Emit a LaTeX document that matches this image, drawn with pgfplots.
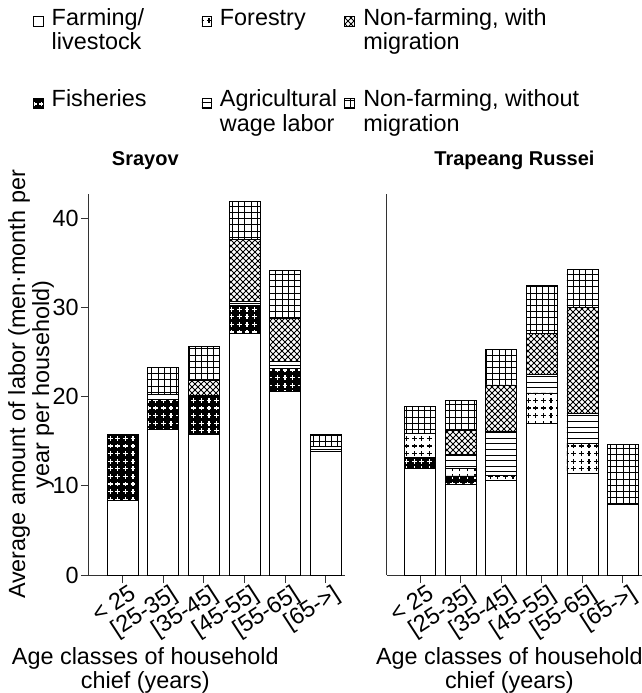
\documentclass[border=0pt]{standalone}
\usepackage{fontspec}
\setmainfont{Liberation Sans}
\usepackage{pgfplots}
\pgfplotsset{compat=1.18}
\usepackage{pgfplotstable}
\usetikzlibrary{patterns}

% custom patterns
\pgfdeclarepatternformonly{plusses}{\pgfqpoint{-0.1pt}{-0.1pt}}{\pgfqpoint{3.9pt}{3.9pt}}{\pgfqpoint{3.8pt}{3.8pt}}{%
  \pgfsetlinewidth{0.55pt}%
  \pgfpathmoveto{\pgfqpoint{0.7pt}{1.9pt}}\pgfpathlineto{\pgfqpoint{3.1pt}{1.9pt}}%
  \pgfpathmoveto{\pgfqpoint{1.9pt}{0.7pt}}\pgfpathlineto{\pgfqpoint{1.9pt}{3.1pt}}%
  \pgfusepath{stroke}}
\pgfdeclarepatternformonly{hlin}{\pgfqpoint{-0.1pt}{0pt}}{\pgfqpoint{4.1pt}{2.8pt}}{\pgfqpoint{4pt}{2.8pt}}{%
  \pgfsetlinewidth{0.45pt}%
  \pgfpathmoveto{\pgfqpoint{-0.1pt}{1.4pt}}\pgfpathlineto{\pgfqpoint{4.1pt}{1.4pt}}%
  \pgfusepath{stroke}}
\pgfdeclarepatternformonly{sqgrid}{\pgfqpoint{-0.1pt}{-0.1pt}}{\pgfqpoint{3.2pt}{3.2pt}}{\pgfqpoint{3.1pt}{3.1pt}}{%
  \pgfsetlinewidth{0.45pt}%
  \pgfpathmoveto{\pgfqpoint{-0.1pt}{1.55pt}}\pgfpathlineto{\pgfqpoint{3.2pt}{1.55pt}}%
  \pgfpathmoveto{\pgfqpoint{1.55pt}{-0.1pt}}\pgfpathlineto{\pgfqpoint{1.55pt}{3.2pt}}%
  \pgfusepath{stroke}}
\pgfdeclarepatternformonly{dcross}{\pgfqpoint{-0.2pt}{-0.2pt}}{\pgfqpoint{3.2pt}{3.2pt}}{\pgfqpoint{3pt}{3pt}}{%
  \pgfsetlinewidth{0.5pt}%
  \pgfpathmoveto{\pgfqpoint{-0.2pt}{-0.2pt}}\pgfpathlineto{\pgfqpoint{3.2pt}{3.2pt}}%
  \pgfpathmoveto{\pgfqpoint{-0.2pt}{3.2pt}}\pgfpathlineto{\pgfqpoint{3.2pt}{-0.2pt}}%
  \pgfusepath{stroke}}

% data (men-month per year per household), segments of each stacked bar
\pgfplotstableread{
x farm fish forest wage with without
0 8.4  7.4 0   0   0   0
1 16.3 3.4 0   0.5 0   3.1
2 15.8 4.3 0   0   1.7 3.8
3 27.1 3.1 0   0.5 6.9 4.3
4 20.6 2.5 0   0.8 4.9 5.3
5 13.8 0   0   0.6 0   1.4
}\Srayov
\pgfplotstableread{
x farm fish forest wage with without
0 11.9 1.3 2.7 0   0    3.0
1 10.2 0.9 0.8 1.6 2.7  3.4
2 10.6 0   0.6 4.9 5.2  4.0
3 17.0 0   3.4 2.1 4.6  5.4
4 11.4 0   3.3 3.4 11.9 4.2
5 7.9  0   0   0   0    6.7
}\Trapeang

% legend entry: fixed-width box, top-aligned lines
\newcommand{\lgd}[2]{\makebox[#1][l]{\begin{tabular}[t]{@{}l@{}}#2\end{tabular}}}

\pgfplotsset{
  legimg/.style={legend image code/.code={\draw[##1, line width=0.4pt] (0pt,-0.5pt) rectangle (4.8pt,4.3pt);}},
  sfarm/.style={fill=white, draw=black, line width=0.45pt, legimg},
  sfish/.style={fill=black, draw=black, line width=0.45pt, postaction={pattern=plusses, pattern color=white}, legimg},
  sforest/.style={fill=white, draw=black, line width=0.45pt, postaction={pattern=plusses, pattern color=black}, legimg},
  swage/.style={fill=white, draw=black, line width=0.45pt, postaction={pattern=hlin, pattern color=black}, legimg},
  swith/.style={fill=white, draw=black, line width=0.45pt, postaction={pattern=dcross, pattern color=black}, legimg},
  swithout/.style={fill=white, draw=black, line width=0.45pt, postaction={pattern=sqgrid, pattern color=black}, legimg},
  common/.style={
    scale only axis, height=190.5pt,
    ymin=0, ymax=42.7, xmin=-0.825, xmax=5.47,
    axis x line*=bottom, axis y line*=left,
    axis line style={line width=0.5pt, black!80},
    ybar stacked, bar width=15.5pt,
    xtick={0,1,2,3,4,5},
    xticklabels={{< 25},{[25-35]},{[35-45]},{[45-55]},{[55-65]},{[65->]}},
    xticklabel style={rotate=33, anchor=north east, inner sep=0.5pt, xshift=3pt, yshift=-1pt},
    yticklabel style={inner sep=1pt},
    tick align=outside, major tick length=4pt,
    tick style={line width=0.5pt, black!80},
    xlabel={Age classes of household\\chief (years)},
    xlabel style={align=center, anchor=north, inner sep=0pt},
    title style={font=\bfseries, anchor=base, inner sep=0pt},
    /pgf/number format/assume math mode=true,
  },
}

\begin{document}
\begin{tikzpicture}[font=\fontsize{11.7pt}{12pt}\selectfont]
\path[use as bounding box] (-44.5pt,-59pt) rectangle (276.5pt,287.5pt);
\begin{axis}[common, at={(0pt,0pt)}, anchor=south west, width=128pt,
  ytick={0,10,20,30,40},
  title={Srayov},
  title style={at={(axis description cs:0.22,1)}, yshift=8.5pt},
  xlabel style={at={(axis description cs:0.22,-0.19)}},
  ylabel={Average amount of labor (men·month per\\year per household)},
  ylabel style={at={(axis description cs:-0.135,0.5)}, anchor=south, align=center, inner sep=0pt},
  legend columns=2, transpose legend,
  legend style={draw=none, fill=none, inner sep=0pt, at={(-0.219,1.488)}, anchor=north west,
    cells={anchor=base west}, nodes={inner sep=0pt, text depth=0pt},
    row sep=31.6pt,
    /tikz/every odd column/.append style={column sep=4pt}},
]
\addplot[sfarm] table[x=x,y=farm]{\Srayov};
\addlegendentry{\lgd{74.9pt}{Farming/\\livestock}}
\addplot[sfish] table[x=x,y=fish]{\Srayov};
\addlegendentry{\lgd{74.9pt}{Fisheries}}
\addplot[sforest] table[x=x,y=forest]{\Srayov};
\addlegendentry{\lgd{62pt}{Forestry}}
\addplot[swage] table[x=x,y=wage]{\Srayov};
\addlegendentry{\lgd{62pt}{Agricultural\\wage labor}}
\addplot[swith] table[x=x,y=with]{\Srayov};
\addlegendentry{\lgd{0pt}{Non-farming, with\\migration}}
\addplot[swithout] table[x=x,y=without]{\Srayov};
\addlegendentry{\lgd{0pt}{Non-farming, without\\migration}}
\end{axis}
\begin{axis}[common, at={(149pt,0pt)}, anchor=south west, width=127.5pt,
  ytick=\empty,
  title={Trapeang Russei},
  title style={at={(axis description cs:0.5,1)}, yshift=8.5pt},
  xlabel style={at={(axis description cs:0.48,-0.19)}},
]
\addplot[sfarm] table[x=x,y=farm]{\Trapeang};
\addplot[sfish] table[x=x,y=fish]{\Trapeang};
\addplot[sforest] table[x=x,y=forest]{\Trapeang};
\addplot[swage] table[x=x,y=wage]{\Trapeang};
\addplot[swith] table[x=x,y=with]{\Trapeang};
\addplot[swithout] table[x=x,y=without]{\Trapeang};
\end{axis}
\end{tikzpicture}
\end{document}
